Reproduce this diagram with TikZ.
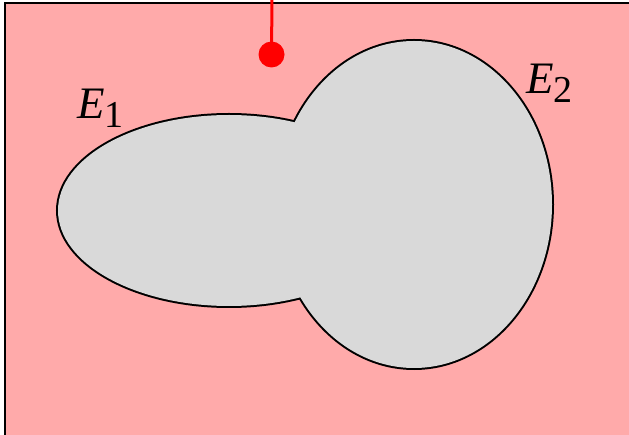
\documentclass[tikz,border=0pt]{standalone}
\usepackage{fontspec}
\newfontfamily\timesfont{Liberation Serif}
\definecolor{bgpink}{RGB}{255,170,170}
\definecolor{blobgray}{RGB}{217,217,217}
\definecolor{dotred}{RGB}{255,0,0}
\tikzset{
  outline/.style={draw=black,line width=4pt},
  blobfill/.style={fill=blobgray},
  label/.style={inner sep=0pt,anchor=base west,font=\timesfont\fontsize{45}{45}\selectfont},
}
\newcommand{\sublab}[1]{\raisebox{-9pt}{\timesfont\fontsize{38}{38}\selectfont #1}}
\begin{document}
\begin{tikzpicture}[x=1pt,y=-1pt]
\useasboundingbox (0,0) rectangle (629,435);
\fill[bgpink] (5,3) rectangle (650,450);
\draw[line width=2.5pt,black] (5,450) -- (5,3) -- (650,3);
% outer outline (inner half later covered by fill)
\draw[outline] (229,210.5) ellipse [x radius=171,y radius=95.5];
\draw[outline] (414,204.5) ellipse [x radius=138,y radius=163.5];
\fill[blobfill] (229,210.5) ellipse [x radius=171,y radius=95.5];
\fill[blobfill] (414,204.5) ellipse [x radius=138,y radius=163.5];
% red probe
\coordinate (top) at (272,-2);
\node[circle,fill=dotred,inner sep=0pt,minimum size=26pt] (dot) at (271.5,54.5) {};
\draw[dotred,line width=3pt] (top) -- (dot.center);
% labels
\node[label] (e1) at (77,119) {{\itshape E}\sublab{1}};
\node[label] (e2) at (526,94) {{\itshape E}\sublab{2}};
\end{tikzpicture}
\end{document}
